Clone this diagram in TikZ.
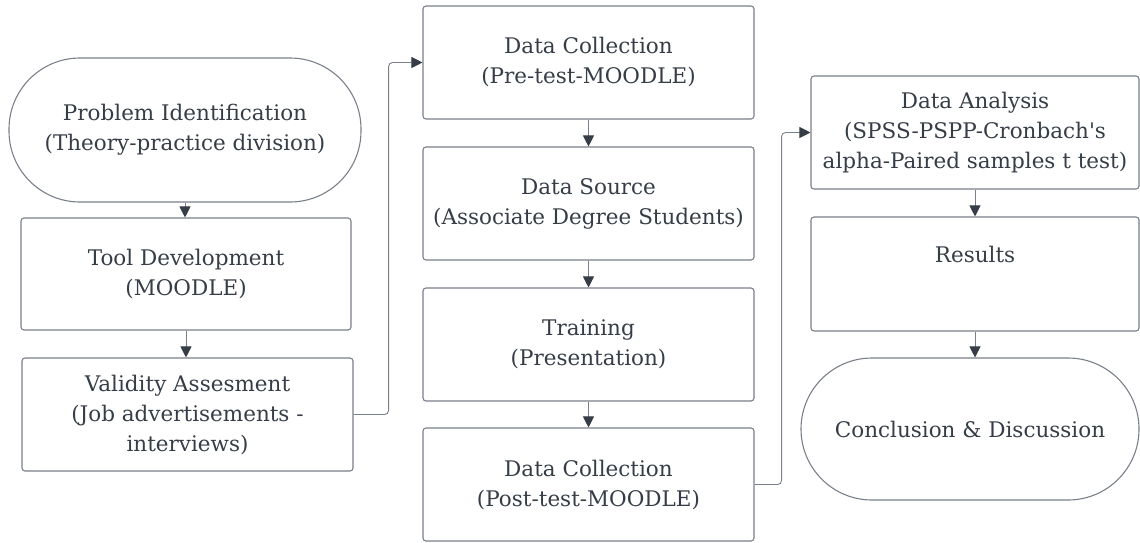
\documentclass[tikz,border=0pt]{standalone}
\usepackage{fontspec}
\setmainfont{DejaVu Serif}[Ligatures=TeXOff]
\usetikzlibrary{arrows.meta}
\definecolor{txt}{HTML}{363D47}
\definecolor{edge}{HTML}{7A8089}
\begin{document}
\begin{tikzpicture}[x=1pt,y=-1pt,
  box/.style={draw=edge, line width=1.1pt, rounded corners=3pt, align=center, text=txt,
    font=\fontsize{21.5}{30}\selectfont, inner sep=0pt},
  pill/.style={box, rounded corners=71pt},
  conn/.style={draw=edge, line width=0.9pt, rounded corners=4pt,
    -{Triangle[width=11pt,length=11pt,fill=txt,color=txt]}},
]
\useasboundingbox (0,0) rectangle (1140,542);
\node[pill, minimum width=352pt, minimum height=144pt] (pi) at (185,130)
  {Problem Identification\\(Theory-practice division)};
\node[box, minimum width=330pt, minimum height=112pt] (td) at (186,274)
  {Tool Development\\(MOODLE)};
\node[box, minimum width=331pt, minimum height=113pt] (va) at (187.5,414.5)
  {Validity Assesment\\(Job advertisements -\\interviews)};
\node[box, minimum width=331pt, minimum height=113pt] (dc1) at (588.5,62.5)
  {Data Collection\\(Pre-test-MOODLE)};
\node[box, minimum width=331pt, minimum height=113pt] (ds) at (588.5,203.5)
  {Data Source\\(Associate Degree Students)};
\node[box, minimum width=331pt, minimum height=113pt] (tr) at (588.5,344.5)
  {Training\\(Presentation)};
\node[box, minimum width=331pt, minimum height=113pt] (dc2) at (588.5,484.5)
  {Data Collection\\(Post-test-MOODLE)};
\node[box, minimum width=328pt, minimum height=113pt] (da) at (975,132.5)
  {Data Analysis\\(SPSS-PSPP-Cronbach's\\alpha-Paired samples t test)};
\node[box, minimum width=328pt, minimum height=114pt] (rs) at (975,274)
  {Results\\\strut};
\node[pill, minimum width=338pt, minimum height=142pt] (cd) at (970,429)
  {Conclusion \& Discussion};
\draw[conn] (pi.south) -- (pi.south |- td.north);
\draw[conn] (td.south) -- (td.south |- va.north);
\draw[conn] (va.east) -- ++(35,0) |- (dc1.west);
\draw[conn] (dc1.south) -- (ds.north);
\draw[conn] (ds.south) -- (tr.north);
\draw[conn] (tr.south) -- (dc2.north);
\draw[conn] (dc2.east) -- ++(27,0) |- (da.west);
\draw[conn] (da.south) -- (rs.north);
\draw[conn] (rs.south) -- (rs.south |- cd.north);
\end{tikzpicture}
\end{document}
